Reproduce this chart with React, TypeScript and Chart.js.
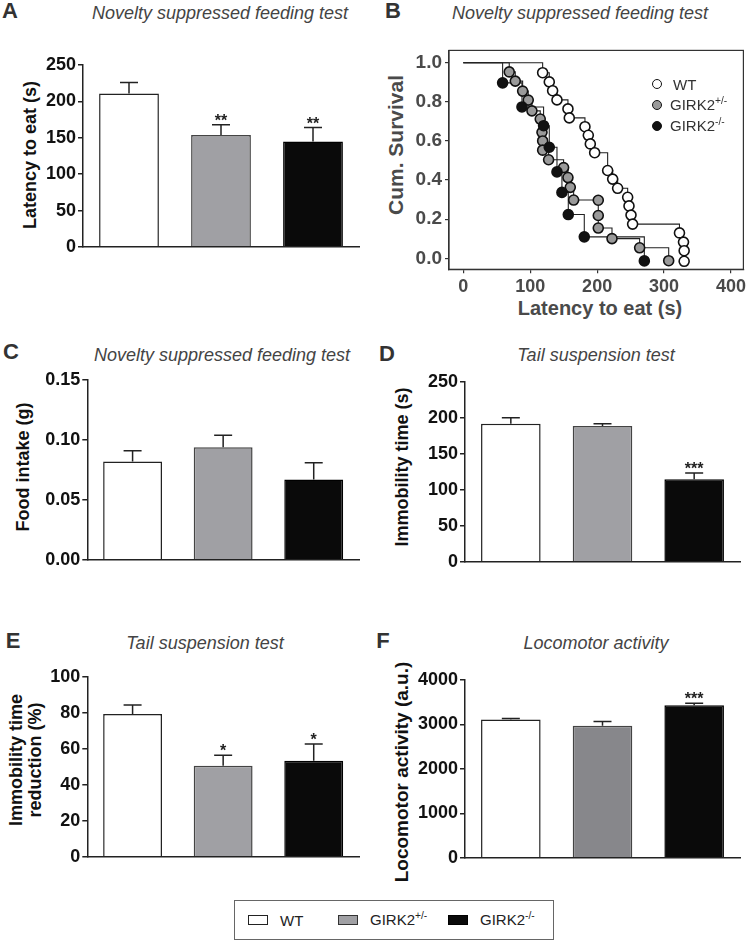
import React, { useEffect, useRef } from 'react';
import { Chart, registerables } from 'chart.js';
Chart.register(...registerables);

const FONT = '"Liberation Sans", Arial, Helvetica, sans-serif';

const groups = ['WT', 'GIRK2+/-', 'GIRK2-/-'];

// Panel A – latency to eat (s)
const latencyMean = [211, 154, 145];
const latencySem = [15, 14, 19];
const latencyStars = ['', '**', '**'];
const latencyTicks = [0, 50, 100, 150, 200, 250];

// Panel C – food intake (g)
const foodMean = [0.082, 0.094, 0.067];
const foodSem = [0.009, 0.010, 0.014];
const foodStars = ['', '', ''];
const foodTicks = [0, 0.05, 0.1, 0.15];

// Panel D – immobility time (s)
const immobMean = [192, 189, 115];
const immobSem = [8.5, 3, 8.5];
const immobStars = ['', '', '***'];
const immobTicks = [0, 50, 100, 150, 200, 250];

// Panel E – immobility time reduction (%)
const reductionMean = [79.4, 50.7, 53.5];
const reductionSem = [5, 5.8, 9.3];
const reductionStars = ['', '*', '*'];
const reductionTicks = [0, 20, 40, 60, 80, 100];

// Panel F – locomotor activity (a.u.)
const locoMean = [3110, 2970, 3430];
const locoSem = [25, 95, 45];
const locoStars = ['', '', '***'];
const locoTicks = [0, 1000, 2000, 3000, 4000];

// Panel B – Kaplan-Meier survival
const wtTimes = [118.6, 128.5, 133.5, 140, 156.4, 158.4, 181.8, 186.8, 189.8, 196.3, 215.7, 223.2, 230.6, 245.6, 247.6, 250.6, 253, 323, 329, 330, 330];
const wtSurv = [0.949, 0.902, 0.857, 0.81, 0.764, 0.718, 0.673, 0.629, 0.585, 0.54, 0.449, 0.405, 0.358, 0.312, 0.268, 0.221, 0.175, 0.13, 0.083, 0.039, -0.015];
const hetTimes = [68.7, 77.7, 88.7, 97.1, 102.6, 115, 117.6, 118.6, 118.6, 127.5, 149.9, 156.4, 159.9, 164.9, 201.7, 201.7, 201.7, 222.2, 263.5, 306.9];
const hetSurv = [0.953, 0.906, 0.855, 0.809, 0.754, 0.712, 0.644, 0.6, 0.553, 0.504, 0.464, 0.413, 0.363, 0.298, 0.297, 0.219, 0.155, 0.101, 0.054, -0.012];
const koTimes = [58.8, 87.7, 120, 128.5, 140, 147.4, 156.9, 180.8, 270.5];
const koSurv = [0.897, 0.774, 0.678, 0.568, 0.442, 0.337, 0.224, 0.11, -0.013];
const survXTicks = [0, 100, 200, 300, 400];
const survYTicks = [0, 0.2, 0.4, 0.6, 0.8, 1.0];

const WHITE = '#ffffff';
const GRAY = '#a0a0a4';
const GRAY_DARK = '#87878b';
const BLACK = '#0a0a0a';

type Area = { l: number; t: number; r: number; b: number };

function BarPanel(props: {
  px: number; area: Area; means: number[]; sems: number[]; stars: string[];
  ticks: number[]; fmt: (v: number) => string; gray?: string;
}) {
  const { px, area, means, sems, stars, ticks, fmt } = props;
  const ref = useRef<HTMLCanvasElement>(null);
  const PADT = 14, PADB = 14, PADR = 8;
  const top = area.t - PADT;
  const w = Math.round(area.r + PADR - px);
  const h = Math.round(area.b - area.t + PADT + PADB);
  useEffect(() => {
    const errPlugin = {
      id: 'errbars',
      afterDatasetsDraw(chart: any) {
        const ctx = chart.ctx;
        const meta = chart.getDatasetMeta(0);
        const ys = chart.scales.y;
        ctx.save();
        ctx.strokeStyle = '#222';
        ctx.lineWidth = 1.5;
        meta.data.forEach((bar: any, i: number) => {
          const x = bar.x;
          const y0 = ys.getPixelForValue(means[i]);
          const y1 = ys.getPixelForValue(means[i] + sems[i]);
          ctx.beginPath();
          ctx.moveTo(x, y0);
          ctx.lineTo(x, y1);
          ctx.moveTo(x - 9, y1);
          ctx.lineTo(x + 9, y1);
          ctx.stroke();
          if (stars[i]) {
            ctx.fillStyle = '#222';
            ctx.font = `bold 16px ${FONT}`;
            ctx.textAlign = 'center';
            ctx.textBaseline = 'alphabetic';
            ctx.fillText(stars[i], x, y1 + 1);
          }
        });
        ctx.restore();
      },
    };
    const chart = new Chart(ref.current as HTMLCanvasElement, {
      type: 'bar',
      data: {
        labels: groups,
        datasets: [{
          data: means,
          backgroundColor: [WHITE, props.gray || GRAY, BLACK],
          borderColor: ['#222', '#444', '#000'],
          borderWidth: 1.5,
          categoryPercentage: 1,
          barPercentage: 0.65,
        }],
      },
      options: {
        responsive: false,
        animation: false,
        layout: { padding: { top: PADT, right: PADR, left: 0, bottom: 0 } },
        plugins: { legend: { display: false }, tooltip: { enabled: false } },
        scales: {
          x: {
            grid: { display: false },
            ticks: { display: false },
            border: { display: true, color: '#222', width: 1.5, z: 1 },
            afterFit: (s: any) => { s.height = PADB; },
          },
          y: {
            min: ticks[0],
            max: ticks[ticks.length - 1],
            afterBuildTicks: (s: any) => { s.ticks = ticks.map((v) => ({ value: v })); },
            ticks: { color: '#111', font: { family: FONT, size: 18, weight: 'bold' }, padding: 2, callback: (v: any) => fmt(Number(v)) },
            grid: { drawOnChartArea: false, drawTicks: true, tickLength: 5, color: '#222', lineWidth: 1.5 },
            border: { display: true, color: '#222', width: 1.5, z: 1 },
            afterFit: (s: any) => { s.width = area.l - px; },
          },
        },
      } as any,
      plugins: [errPlugin],
    });
    return () => chart.destroy();
  }, []);
  return (
    <canvas ref={ref} width={w} height={h}
      style={{ position: 'absolute', left: px, top, width: w, height: h }} />
  );
}

function SurvivalPanel() {
  const ref = useRef<HTMLCanvasElement>(null);
  const cl = 400, ct = 36, cw = 350, ch = 262;
  const area = { l: 449, t: 48.3, r: 744, b: 269.3 };
  useEffect(() => {
    const boxPlugin = {
      id: 'box',
      afterDatasetsDraw(chart: any) {
        const { left, top, right, bottom } = chart.chartArea;
        const ctx = chart.ctx;
        ctx.save();
        ctx.strokeStyle = '#333';
        ctx.lineWidth = 1.2;
        ctx.strokeRect(left, top, right - left, bottom - top);
        ctx.restore();
      },
    };
    const series = [
      { times: wtTimes, surv: wtSurv, fill: '#ffffff' },
      { times: hetTimes, surv: hetSurv, fill: '#9a9a9a' },
      { times: koTimes, surv: koSurv, fill: '#111111' },
    ];
    const lines = series.map((s) => ({
      type: 'scatter',
      data: [{ x: 0, y: 1 }, ...s.times.map((t, i) => ({ x: t, y: s.surv[i] }))],
      showLine: true,
      stepped: 'before',
      borderColor: '#222',
      borderWidth: 1.1,
      pointRadius: 0,
      order: 5,
    }));
    const marks = series.map((s, k) => ({
      type: 'scatter',
      data: s.times.map((t, i) => ({ x: t, y: s.surv[i] })),
      showLine: false,
      pointRadius: 5,
      pointBackgroundColor: s.fill,
      pointBorderColor: '#111',
      pointBorderWidth: 1.6,
      order: 3 - k,
    }));
    const chart = new Chart(ref.current as HTMLCanvasElement, {
      type: 'scatter',
      data: { datasets: [...lines, ...marks] as any },
      options: {
        responsive: false,
        animation: false,
        layout: { padding: { top: area.t - ct, right: cl + cw - area.r, left: 0, bottom: 0 } },
        plugins: { legend: { display: false }, tooltip: { enabled: false } },
        scales: {
          x: {
            type: 'linear',
            min: -21.3,
            max: 418.5,
            afterBuildTicks: (s: any) => { s.ticks = survXTicks.map((v) => ({ value: v })); },
            ticks: { color: '#4a4a4a', font: { family: FONT, size: 18, weight: 'bold' }, padding: 3, maxRotation: 0 },
            grid: { drawOnChartArea: false, drawTicks: true, tickLength: 4, color: '#333', lineWidth: 1.2 },
            border: { display: true, color: '#333', width: 1.2 },
            afterFit: (s: any) => { s.height = ct + ch - area.b; },
          },
          y: {
            type: 'linear',
            min: -0.056,
            max: 1.063,
            afterBuildTicks: (s: any) => { s.ticks = survYTicks.map((v) => ({ value: v })); },
            ticks: { color: '#4a4a4a', font: { family: FONT, size: 19, weight: 'bold' }, padding: 3, callback: (v: any) => Number(v).toFixed(1) },
            grid: { drawOnChartArea: false, drawTicks: true, tickLength: 4, color: '#333', lineWidth: 1.2 },
            border: { display: true, color: '#333', width: 1.2 },
            afterFit: (s: any) => { s.width = area.l - cl; },
          },
        },
      } as any,
      plugins: [boxPlugin],
    });
    return () => chart.destroy();
  }, []);
  return (
    <canvas ref={ref} width={cw} height={ch}
      style={{ position: 'absolute', left: cl, top: ct, width: cw, height: ch }} />
  );
}

function T(props: { x: number; y: number; size: number; bold?: boolean; italic?: boolean; color?: string; rot?: boolean; lh?: number; children: any }) {
  const { x, y, size, bold, italic, color, rot, lh, children } = props;
  return (
    <div style={{
      position: 'absolute', left: x, top: y,
      transform: `translate(-50%, -50%)${rot ? ' rotate(-90deg)' : ''}`,
      fontSize: size, fontWeight: bold ? 'bold' : 'normal', fontStyle: italic ? 'italic' : 'normal',
      color: color || '#111', whiteSpace: 'nowrap', lineHeight: lh ?? 1, textAlign: 'center',
    }}>{children}</div>
  );
}

function Sup({ s }: { s: string }) {
  return <span style={{ fontSize: '0.68em', position: 'relative', top: '-0.55em' }}>{s}</span>;
}

function Circle({ x, y, fill }: { x: number; y: number; fill: string }) {
  return <div style={{ position: 'absolute', left: x - 5, top: y - 5, width: 10, height: 10, borderRadius: '50%', boxSizing: 'border-box', border: '1.6px solid #111', background: fill }} />;
}

function Swatch({ x, y, fill, border }: { x: number; y: number; fill: string; border: string }) {
  return <div style={{ position: 'absolute', left: x, top: y, width: 20, height: 10, boxSizing: 'border-box', border: `1.5px solid ${border}`, background: fill }} />;
}

const f0 = (v: number) => String(Math.round(v));
const f2 = (v: number) => v.toFixed(2);

export default function App() {
  const TITLE = '#444';
  const LETTER = '#333';
  return (
    <div style={{ position: 'absolute', left: 0, top: 0, width: 750, height: 942, background: '#fff', fontFamily: FONT, overflow: 'hidden' }}>
      {/* Panel A */}
      <T x={10} y={11} size={22} bold color={LETTER}>A</T>
      <T x={220} y={13} size={18} italic color={TITLE}>Novelty suppressed feeding test</T>
      <T x={30} y={155} size={18} bold rot>Latency to eat (s)</T>
      <BarPanel px={0} area={{ l: 83, t: 65, r: 359, b: 246.7 }} means={latencyMean} sems={latencySem} stars={latencyStars} ticks={latencyTicks} fmt={f0} />

      {/* Panel B */}
      <T x={393} y={11} size={22} bold color={LETTER}>B</T>
      <T x={580} y={13} size={18} italic color={TITLE}>Novelty suppressed feeding test</T>
      <T x={395} y={145} size={21} bold rot color="#4a4a4a">Cum. Survival</T>
      <T x={600} y={308} size={20} bold color="#4a4a4a">Latency to eat (s)</T>
      <SurvivalPanel />
      <Circle x={657} y={84} fill="#ffffff" />
      <Circle x={657} y={105} fill="#9a9a9a" />
      <Circle x={657} y={126} fill="#111111" />
      <div style={{ position: 'absolute', left: 673, top: 84, transform: 'translateY(-50%)', fontSize: 15, color: '#333', lineHeight: 1 }}>WT</div>
      <div style={{ position: 'absolute', left: 670, top: 105, transform: 'translateY(-50%)', fontSize: 15, color: '#333', lineHeight: 1, whiteSpace: 'nowrap' }}>GIRK2<Sup s="+/-" /></div>
      <div style={{ position: 'absolute', left: 670, top: 126, transform: 'translateY(-50%)', fontSize: 15, color: '#333', lineHeight: 1, whiteSpace: 'nowrap' }}>GIRK2<Sup s="-/-" /></div>

      {/* Panel C */}
      <T x={11} y={352} size={22} bold color={LETTER}>C</T>
      <T x={222} y={355} size={18} italic color={TITLE}>Novelty suppressed feeding test</T>
      <T x={23} y={467} size={18} bold rot>Food intake (g)</T>
      <BarPanel px={0} area={{ l: 87.3, t: 380, r: 359, b: 560 }} means={foodMean} sems={foodSem} stars={foodStars} ticks={foodTicks} fmt={f2} />

      {/* Panel D */}
      <T x={387} y={354} size={22} bold color={LETTER}>D</T>
      <T x={596} y={355} size={18} italic color={TITLE}>Tail suspension test</T>
      <T x={402} y={467} size={18} bold rot>Immobility time (s)</T>
      <BarPanel px={370} area={{ l: 465, t: 381.7, r: 740, b: 561.7 }} means={immobMean} sems={immobSem} stars={immobStars} ticks={immobTicks} fmt={f0} />

      {/* Panel E */}
      <T x={13} y={641} size={22} bold color={LETTER}>E</T>
      <T x={205} y={643} size={18} italic color={TITLE}>Tail suspension test</T>
      <T x={26} y={760} size={18} bold rot lh={1.05}>Immobility time<br />reduction (%)</T>
      <BarPanel px={0} area={{ l: 87.3, t: 676.7, r: 359, b: 856.7 }} means={reductionMean} sems={reductionSem} stars={reductionStars} ticks={reductionTicks} fmt={f0} />

      {/* Panel F */}
      <T x={383} y={641} size={22} bold color={LETTER}>F</T>
      <T x={596} y={643} size={18} italic color={TITLE}>Locomotor activity</T>
      <T x={401} y={772} size={19} bold rot>Locomotor activity (a.u.)</T>
      <BarPanel px={370} area={{ l: 465, t: 680, r: 740, b: 858.3 }} means={locoMean} sems={locoSem} stars={locoStars} ticks={locoTicks} fmt={f0} gray={GRAY_DARK} />

      {/* Shared legend */}
      <div style={{ position: 'absolute', left: 234, top: 900, width: 320, height: 40, boxSizing: 'border-box', border: '1.5px solid #666' }} />
      <Swatch x={248} y={915} fill={WHITE} border="#222" />
      <div style={{ position: 'absolute', left: 280, top: 920, transform: 'translateY(-50%)', fontSize: 15, color: '#222', lineHeight: 1 }}>WT</div>
      <Swatch x={338} y={915} fill={GRAY} border="#333" />
      <div style={{ position: 'absolute', left: 370, top: 920, transform: 'translateY(-50%)', fontSize: 15, color: '#222', lineHeight: 1, whiteSpace: 'nowrap' }}>GIRK2<Sup s="+/-" /></div>
      <Swatch x={448} y={915} fill={BLACK} border="#000" />
      <div style={{ position: 'absolute', left: 480, top: 920, transform: 'translateY(-50%)', fontSize: 15, color: '#222', lineHeight: 1, whiteSpace: 'nowrap' }}>GIRK2<Sup s="-/-" /></div>
    </div>
  );
}
